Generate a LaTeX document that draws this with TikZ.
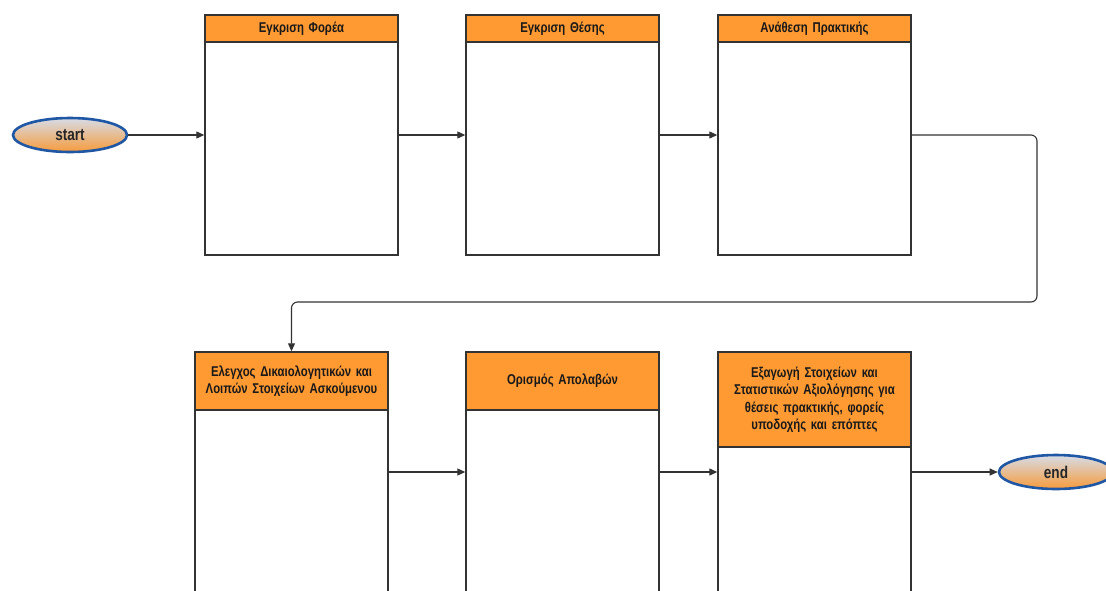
\documentclass[tikz,border=0pt]{standalone}
\usepackage{fontspec}
\setmainfont[FakeStretch=0.8,WordSpace=0.85]{Liberation Sans}
\usetikzlibrary{arrows.meta,shapes.geometric,calc}
\definecolor{hdr}{HTML}{FF9A33}
\definecolor{edge}{HTML}{333333}
\definecolor{termblue}{HTML}{1F57A4}
\definecolor{termtop}{HTML}{D6DCE8}
\definecolor{termbot}{HTML}{F79B3A}
\tikzset{
  lane/.style={draw=edge, line width=1.4pt, fill=white, minimum width=193pt, minimum height=240pt, inner sep=0pt},
  hbox/.style={draw=edge, line width=1.4pt, fill=hdr, minimum width=193pt, inner sep=0pt, align=center, text width=190pt, font=\bfseries\fontsize{14.2}{17.5}\selectfont, anchor=north, text=black!90},
  term/.style={ellipse, draw=termblue, line width=2.6pt, top color=termtop, bottom color=termbot, minimum width=114pt, minimum height=34pt, inner sep=0pt, font=\bfseries\fontsize{17}{20}\selectfont, text=black!85},
  conn/.style={draw=edge, line width=1.1pt, -{Triangle[length=8pt,width=7pt]}}
}
\begin{document}
\begin{tikzpicture}[x=1pt,y=-1pt]
\useasboundingbox (0,0) rectangle (1106,590);
\clip (0,0) rectangle (1106,590);
% top row
\node[lane] (b1) at (301.5,135) {};
\node[lane] (b2) at (562.5,135) {};
\node[lane] (b3) at (814.5,135) {};
\node[hbox, minimum height=27pt] (h1) at (b1.north) {Εγκριση Φορέα};
\node[hbox, minimum height=27pt] (h2) at (b2.north) {Εγκριση Θέσης};
\node[hbox, minimum height=27pt] (h3) at (b3.north) {Ανάθεση Πρακτικής};
% bottom row
\node[lane] (b4) at (291.5,472) {};
\node[lane] (b5) at (562.5,472) {};
\node[lane] (b6) at (814.5,472) {};
\node[hbox, minimum height=58pt] (h4) at (b4.north) {Ελεγχος Δικαιολογητικών και\\Λοιπών Στοιχείων Ασκούμενου};
\node[hbox, minimum height=58pt] (h5) at (b5.north) {Ορισμός Απολαβών};
\node[hbox, minimum height=95pt] (h6) at (b6.north) {Εξαγωγή Στοιχείων και\\Στατιστικών Αξιολόγησης για\\θέσεις πρακτικής, φορείς\\υποδοχής και επόπτες};
% terminals
\node[term] (start) at (70,135) {start};
\node[term] (end) at (1056,472) {end};
% connectors
\draw[conn] (start) -- (b1);
\draw[conn] (b1) -- (b2);
\draw[conn] (b2) -- (b3);
\draw[conn, rounded corners=6pt] (b3.east) -- (1037,135) -- (1037,302) -- (b4.north |- 0,302) -- (b4.north);
\draw[conn] (b4) -- (b5);
\draw[conn] (b5) -- (b6);
\draw[conn] (b6) -- (end);
\end{tikzpicture}
\end{document}
